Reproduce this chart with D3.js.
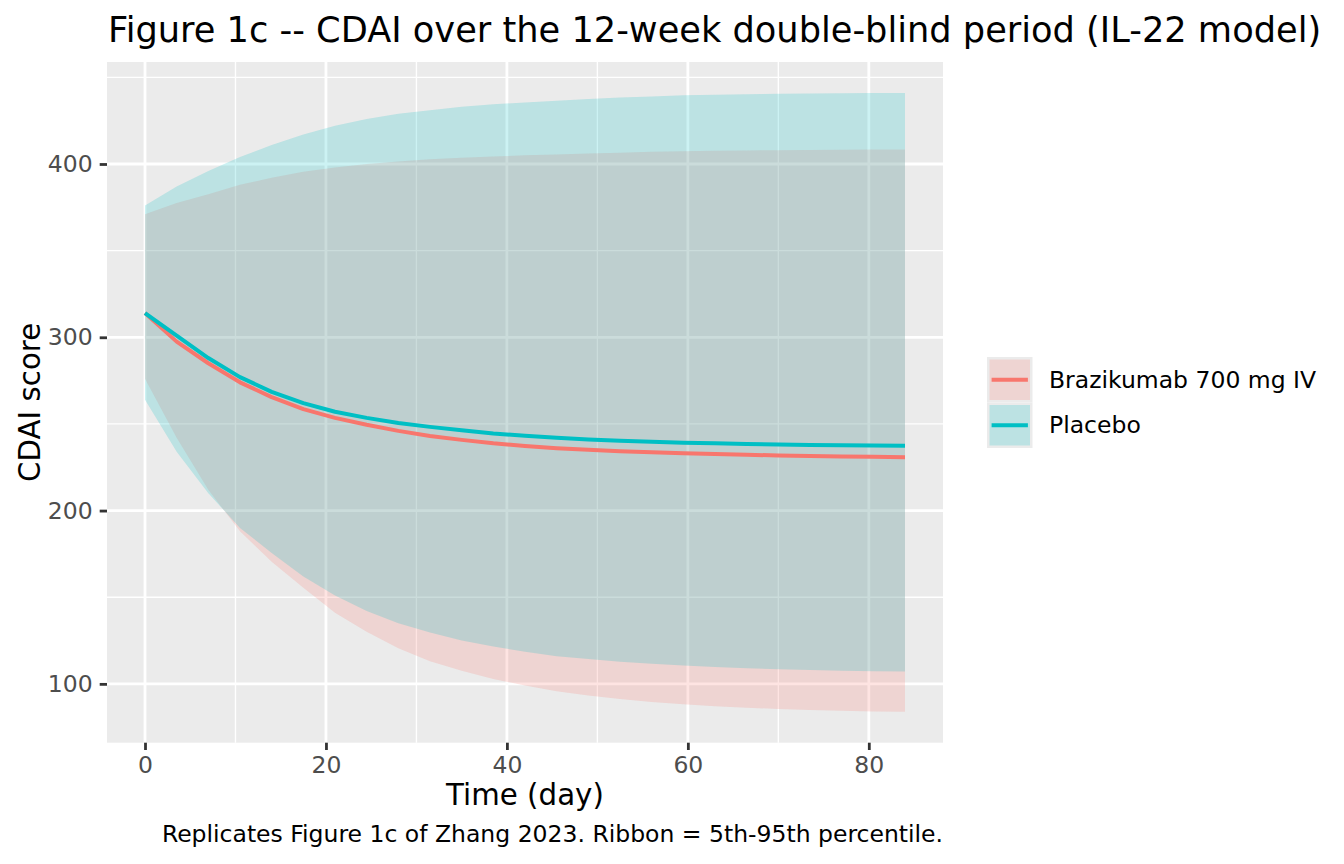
<!DOCTYPE html>
<html lang="en">
<head>
    <meta charset="UTF-8">
    <title>Figure 1c CDAI</title>
    <script src="https://d3js.org/d3.v7.min.js"></script>
    <style>
        body { margin: 0; background: #fff; }
        svg text { font-family: "DejaVu Sans", sans-serif; }
    </style>
</head>
<body>
    <div id="chart"></div>
    <script>
        // Days of the simulation (half-week steps)
        const days = [0, 3.5, 7, 10.5, 14, 17.5, 21, 24.5, 28, 31.5, 35, 38.5, 42,
            45.5, 49, 52.5, 56, 59.5, 63, 66.5, 70, 73.5, 77, 80.5, 84];

        // Brazikumab 700 mg IV: median and 5th / 95th percentile
        const brazMedian = [314, 297.5, 285, 274, 265.5, 258.5, 253.5, 249.5, 246, 243, 240.8, 238.8, 237.3,
            236, 235.1, 234.3, 233.6, 233.1, 232.6, 232.2, 231.8, 231.5, 231.2, 231, 230.8];
        const brazLow = [276, 242, 212, 188, 170.5, 155.5, 141, 130, 120.5, 113, 107.5, 102.8, 99,
            95.8, 93.3, 91.3, 89.6, 88.2, 87.1, 86.2, 85.5, 84.9, 84.5, 84.1, 83.9];
        const brazHigh = [371, 377.5, 382.5, 388, 392, 395.5, 398, 400, 401.5, 402.7, 403.6, 404.3, 405,
            405.5, 406, 406.5, 407, 407.3, 407.6, 407.8, 408, 408.1, 408.2, 408.3, 408.3];

        // Placebo: median and 5th / 95th percentile
        const placMedian = [314, 301, 288, 277, 268.5, 262, 257, 253.5, 250.5, 248.3, 246.3, 244.5, 243.2,
            242, 241, 240.3, 239.7, 239.2, 238.8, 238.4, 238.1, 237.9, 237.7, 237.5, 237.4];
        const placLow = [264, 234, 210, 190, 175.5, 162, 151, 142, 135, 129.6, 125, 121.5, 118.5,
            116, 114.3, 112.8, 111.6, 110.6, 109.7, 109, 108.5, 108, 107.6, 107.3, 107.1];
        const placHigh = [376, 387, 396, 404, 411, 417, 422, 426, 429, 431, 433, 434.5, 435.5,
            436.5, 437.5, 438.3, 439, 439.6, 440, 440.3, 440.5, 440.7, 440.8, 440.9, 441];

        const groups = ['Brazikumab 700 mg IV', 'Placebo'];
        const colors = ['#F8766D', '#00BFC4'];

        const xTicks = [0, 20, 40, 60, 80];
        const xMinor = [10, 30, 50, 70];
        const yTicks = [100, 200, 300, 400];
        const yMinor = [150, 250, 350, 450];

        const width = 1344;
        const height = 864;
        const panel = { left: 107, right: 943, top: 62, bottom: 742.7 };

        // build one row per day for each group
        const series = [
            { name: groups[0], color: colors[0], rows: days.map((d, i) => ({ t: d, mid: brazMedian[i], lo: brazLow[i], hi: brazHigh[i] })) },
            { name: groups[1], color: colors[1], rows: days.map((d, i) => ({ t: d, mid: placMedian[i], lo: placLow[i], hi: placHigh[i] })) }
        ];

        const svg = d3.select('#chart')
            .append('svg')
            .attr('width', width)
            .attr('height', height);

        // ggplot-like 5% expansion of the data range
        const xExt = d3.extent(days);
        const xPad = (xExt[1] - xExt[0]) * 0.05;
        const yExt = d3.extent([].concat(brazLow, brazHigh, placLow, placHigh));
        const yPad = (yExt[1] - yExt[0]) * 0.05;

        const xScale = d3.scaleLinear()
            .domain([xExt[0] - xPad, xExt[1] + xPad])
            .range([panel.left, panel.right]);

        const yScale = d3.scaleLinear()
            .domain([yExt[0] - yPad, yExt[1] + yPad])
            .range([panel.bottom, panel.top]);

        // panel background
        svg.append('rect')
            .attr('x', panel.left)
            .attr('y', panel.top)
            .attr('width', panel.right - panel.left)
            .attr('height', panel.bottom - panel.top)
            .attr('fill', '#EBEBEB');

        // grid lines
        const grid = svg.append('g');
        grid.selectAll('.xminor').data(xMinor).enter().append('line')
            .attr('x1', d => xScale(d)).attr('x2', d => xScale(d))
            .attr('y1', panel.top).attr('y2', panel.bottom)
            .attr('stroke', '#fff').attr('stroke-width', 1.4);
        grid.selectAll('.yminor').data(yMinor).enter().append('line')
            .attr('y1', d => yScale(d)).attr('y2', d => yScale(d))
            .attr('x1', panel.left).attr('x2', panel.right)
            .attr('stroke', '#fff').attr('stroke-width', 1.4);
        grid.selectAll('.xmajor').data(xTicks).enter().append('line')
            .attr('x1', d => xScale(d)).attr('x2', d => xScale(d))
            .attr('y1', panel.top).attr('y2', panel.bottom)
            .attr('stroke', '#fff').attr('stroke-width', 2.8);
        grid.selectAll('.ymajor').data(yTicks).enter().append('line')
            .attr('y1', d => yScale(d)).attr('y2', d => yScale(d))
            .attr('x1', panel.left).attr('x2', panel.right)
            .attr('stroke', '#fff').attr('stroke-width', 2.8);

        // ribbons (5th-95th percentile)
        const area = d3.area()
            .x(d => xScale(d.t))
            .y0(d => yScale(d.lo))
            .y1(d => yScale(d.hi));

        svg.selectAll('.ribbon')
            .data(series)
            .enter()
            .append('path')
            .attr('d', d => area(d.rows))
            .attr('fill', d => d.color)
            .attr('fill-opacity', 0.2);

        // median lines
        const line = d3.line()
            .x(d => xScale(d.t))
            .y(d => yScale(d.mid));

        svg.selectAll('.median')
            .data(series)
            .enter()
            .append('path')
            .attr('d', d => line(d.rows))
            .attr('fill', 'none')
            .attr('stroke', d => d.color)
            .attr('stroke-width', 4)
            .attr('stroke-linejoin', 'round');

        // x axis
        const xAxis = svg.append('g')
            .attr('transform', `translate(0, ${panel.bottom})`)
            .call(d3.axisBottom(xScale).tickValues(xTicks).tickSize(7.3).tickPadding(6));
        xAxis.select('.domain').remove();
        xAxis.selectAll('line').attr('stroke', '#333333').attr('stroke-width', 2.8);
        xAxis.selectAll('text')
            .attr('fill', '#4D4D4D')
            .style('font-size', '23.5px');

        // y axis
        const yAxis = svg.append('g')
            .attr('transform', `translate(${panel.left}, 0)`)
            .call(d3.axisLeft(yScale).tickValues(yTicks).tickSize(7.3).tickPadding(7));
        yAxis.select('.domain').remove();
        yAxis.selectAll('line').attr('stroke', '#333333').attr('stroke-width', 2.8);
        yAxis.selectAll('text')
            .attr('fill', '#4D4D4D')
            .style('font-size', '23.5px');

        // axis titles
        svg.append('text')
            .attr('x', (panel.left + panel.right) / 2)
            .attr('y', 805)
            .attr('text-anchor', 'middle')
            .style('font-size', '29.3px')
            .text('Time (day)');

        svg.append('text')
            .attr('transform', `translate(40, ${(panel.top + panel.bottom) / 2}) rotate(-90)`)
            .attr('text-anchor', 'middle')
            .style('font-size', '29.3px')
            .text('CDAI score');

        // title
        svg.append('text')
            .attr('x', panel.left + 1)
            .attr('y', 42)
            .style('font-size', '35.2px')
            .text('Figure 1c -- CDAI over the 12-week double-blind period (IL-22 model)');

        // caption
        svg.append('text')
            .attr('x', panel.right)
            .attr('y', 842)
            .attr('text-anchor', 'end')
            .style('font-size', '23.5px')
            .text('Replicates Figure 1c of Zhang 2023. Ribbon = 5th-95th percentile.');

        // legend
        const keySize = 45.5;
        const legend = svg.append('g')
            .attr('transform', 'translate(987, 357)');

        const keys = legend.selectAll('.key')
            .data(series)
            .enter()
            .append('g')
            .attr('transform', (d, i) => `translate(0, ${i * keySize})`);

        keys.append('rect')
            .attr('width', keySize)
            .attr('height', keySize)
            .attr('fill', '#EBEBEB');
        keys.append('rect')
            .attr('x', 2.5).attr('y', 2.5)
            .attr('width', keySize - 5)
            .attr('height', keySize - 5)
            .attr('fill', d => d.color)
            .attr('fill-opacity', 0.2);
        keys.append('line')
            .attr('x1', 4.6).attr('x2', keySize - 4.6)
            .attr('y1', keySize / 2).attr('y2', keySize / 2)
            .attr('stroke', d => d.color)
            .attr('stroke-width', 4);
        keys.append('text')
            .attr('x', 62)
            .attr('y', keySize / 2)
            .attr('dy', '0.35em')
            .style('font-size', '23.5px')
            .text(d => d.name);
    </script>
</body>
</html>
